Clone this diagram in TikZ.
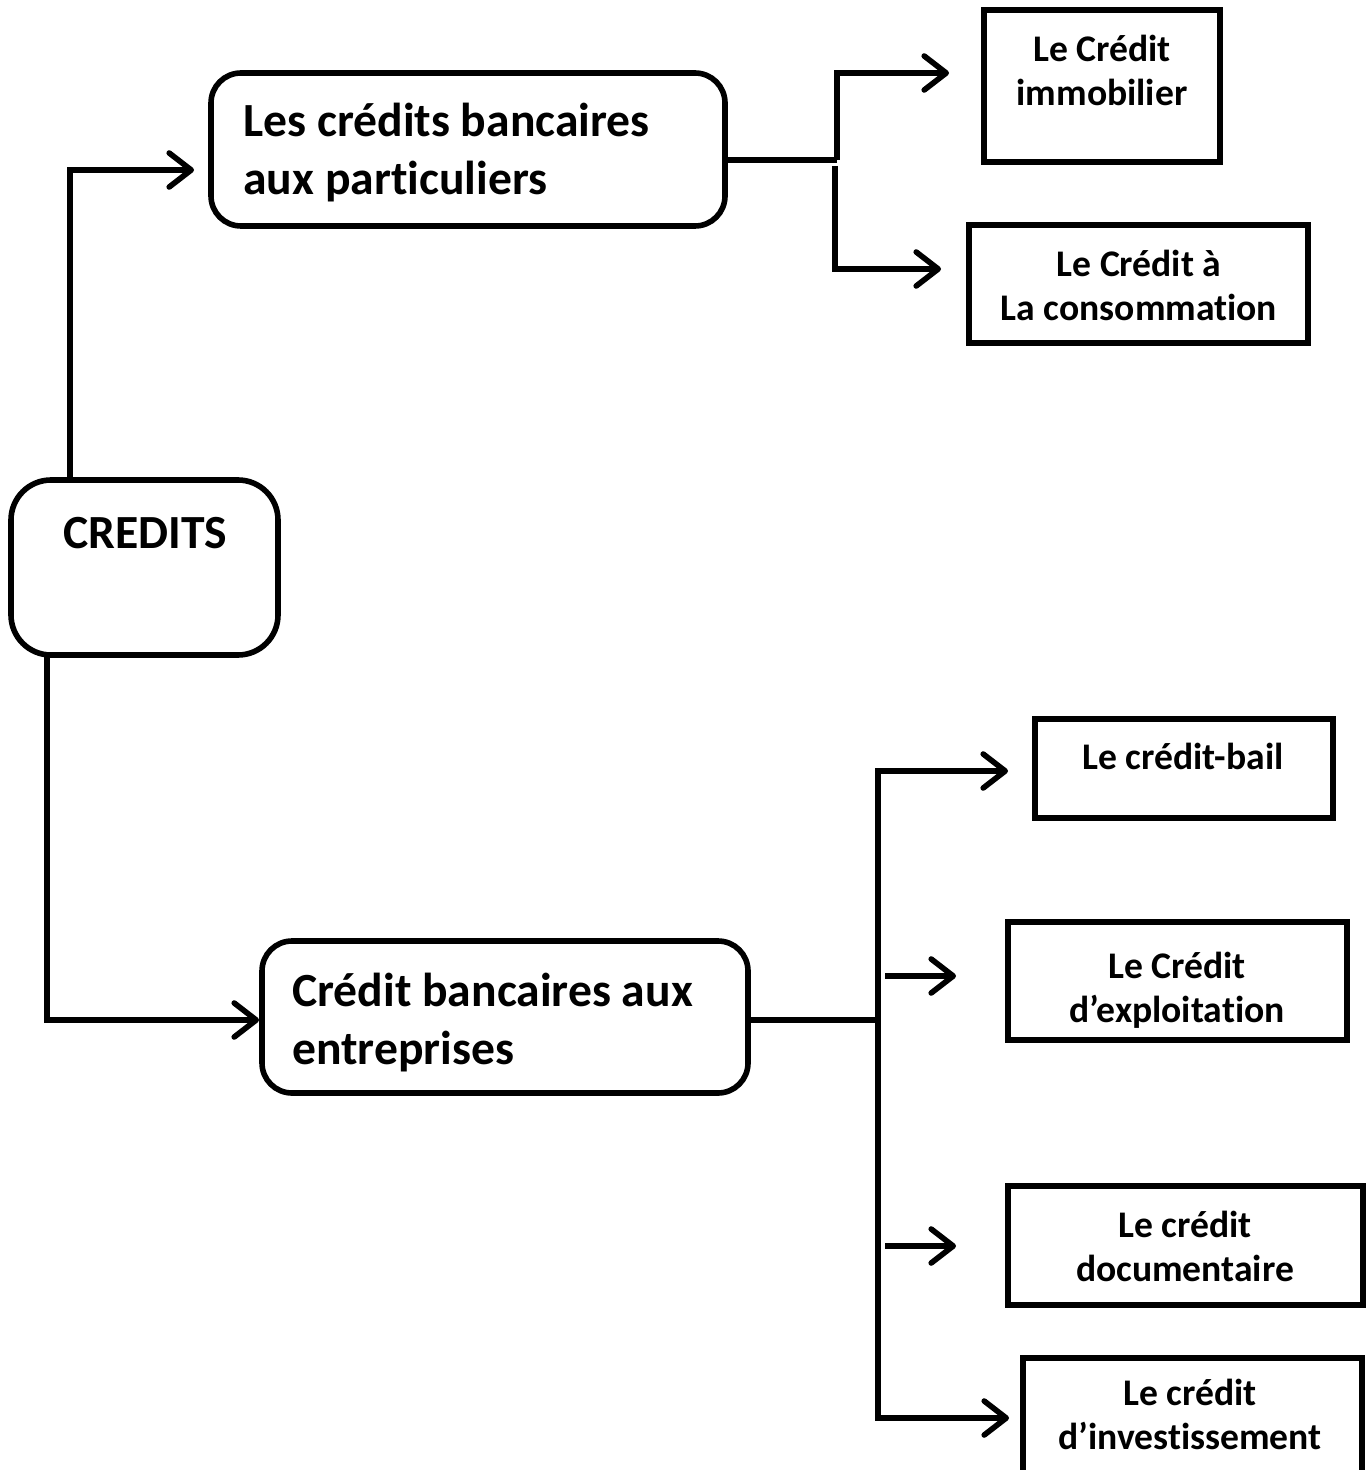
\documentclass[tikz,border=0pt]{standalone}
\usepackage{fontspec}
\setmainfont{Carlito}[Ligatures=CommonOff,Contextuals=NoAlternate]
\usetikzlibrary{arrows.meta,fit}
\begin{document}
\begin{tikzpicture}[x=0.5pt,y=-0.5pt,
  bx/.style={draw, line width=2.8pt, inner sep=0pt, rectangle},
  rbx/.style={bx, rounded corners=15pt},
  big/.style={inner sep=0pt, font=\fontsize{23.8pt}{29pt}\selectfont\bfseries, align=left},
  small/.style={inner sep=0pt, font=\fontsize{18.8pt}{22pt}\selectfont\bfseries, align=center},
  ln/.style={line width=2.8pt},
  arr/.style={line width=2.8pt, -{Straight Barb[round, length=11pt, width=17pt]}}]
\useasboundingbox (0,0) rectangle (1367,1470);
% boxes
\node[rbx, rounded corners=20pt, fit={(11,480) (278,655)}] (C) {};
\node[rbx, fit={(211,73) (725,226)}] (P) {};
\node[rbx, fit={(262,941) (748,1093)}] (E) {};
\node[bx, fit={(984,10) (1220,162)}] (B1) {};
\node[bx, fit={(969,225) (1308,343)}] (B2) {};
\node[bx, fit={(1035,719) (1333,818)}] (B3) {};
\node[bx, fit={(1008,922) (1347,1040)}] (B4) {};
\node[bx, fit={(1008,1186) (1363,1305)}] (B5) {};
\node[bx, fit={(1023,1358) (1362,1530)}] (B6) {};
% texts
\node[big, anchor=center] (tC) at (145,533) {CREDITS};
\node[big, anchor=west] (tP) at (243,153) {Les crédits bancaires\\aux particuliers};
\node[big, anchor=west] (tE) at (292,1023) {Crédit bancaires aux\\entreprises};
\node[small] (t1) at (1102,70) {Le Crédit\\immobilier};
\node[small] (t2) at (1139,285) {Le Crédit à\\La consommation};
\node[small] (t3) at (1183,756) {Le crédit-bail};
\node[small] (t4) at (1177,990) {Le Crédit\\d’exploitation};
\node[small] (t5) at (1185,1246) {Le crédit\\documentaire};
\node[small] (t6) at (1190,1414) {Le crédit\\d’investissement};
% coordinates
\coordinate (cTop) at (70,480);
\coordinate (cBot) at (47,655);
\coordinate (pIn) at (194,170);
\coordinate (eIn) at (259,1020);
\coordinate (pOut) at (725,160);
\coordinate (j1) at (837,160);
\coordinate (j1b) at (835,166);
\coordinate (b1In) at (949,73);
\coordinate (b2In) at (941,269);
\coordinate (eOut) at (748,1020);
\coordinate (j2) at (878,1020);
\coordinate (b3In) at (1008,771);
\coordinate (b6In) at (1009,1418);
\coordinate (m1s) at (885,976);
\coordinate (m1e) at (956,976);
\coordinate (m2s) at (885,1246);
\coordinate (m2e) at (956,1246);
% connectors
\draw[arr] (cTop) |- (pIn);
\draw[arr] (cBot) |- (eIn);
\draw[ln] (pOut) -- (j1);
\draw[arr] (j1) |- (b1In);
\draw[arr] (j1b) |- (b2In);
\draw[ln] (eOut) -- (j2);
\draw[arr] (j2) |- (b3In);
\draw[arr] (j2) |- (b6In);
\draw[arr] (m1s) -- (m1e);
\draw[arr] (m2s) -- (m2e);
\end{tikzpicture}
\end{document}
